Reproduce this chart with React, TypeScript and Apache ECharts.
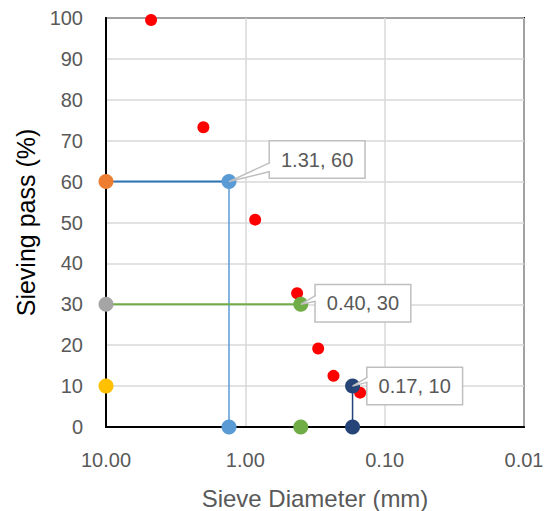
import React, { useEffect, useRef } from "react";
import * as echarts from "echarts";

const FONT = "'Liberation Sans', Arial, sans-serif";

// measured sieve data (diameter mm, % passing)
const sieveX = [4.75, 2.0, 0.85, 0.425, 0.3, 0.233, 0.15];
const sieveY = [99.5, 73.3, 50.7, 32.7, 19.2, 12.5, 8.4];

// characteristic diameters
const d60 = [1.31, 60];
const d30 = [0.4, 30];
const d10 = [0.17, 10];
const axisX = 10;

const xTicks = ["10.00", "1.00", "0.10", "0.01"];
const calloutTexts = ["1.31, 60", "0.40, 30", "0.17, 10"];

const GRAY_TEXT = "#595959";

function callout(text: string, pos: number[]) {
  return {
    show: true,
    formatter: text,
    position: pos,
    backgroundColor: "#fff",
    borderColor: "#BFBFBF",
    borderWidth: 1.5,
    padding: [8, 11, 8, 11],
    color: GRAY_TEXT,
    fontSize: 20,
    fontFamily: FONT,
  };
}

export default function App() {
  const ref = useRef<HTMLDivElement>(null);
  useEffect(() => {
    if (!ref.current) return;
    const chart = echarts.init(ref.current, null, { renderer: "svg" });
    const pt = (c: string, data: number[][], size = 15, label?: any) => ({
      type: "scatter",
      data,
      symbolSize: size,
      clip: false,
      z: 5,
      itemStyle: { color: c, opacity: 1 },
      label: label || { show: false },
    });
    chart.setOption({
      animation: false,
      grid: {
        left: 106,
        right: 20,
        top: 18,
        bottom: 84,
        show: true,
        borderColor: "#000",
        borderWidth: 2,
        containLabel: false,
        outerBoundsMode: "none",
      },
      xAxis: {
        type: "log",
        logBase: 10,
        inverse: true,
        min: 0.01,
        max: 10,
        name: "Sieve Diameter (mm)",
        nameLocation: "middle",
        nameGap: 59,
        nameTextStyle: { fontSize: 24, color: GRAY_TEXT, fontFamily: FONT },
        axisLine: { lineStyle: { color: "#000", width: 2 } },
        axisTick: { show: false },
        axisLabel: {
          fontSize: 20,
          color: GRAY_TEXT,
          fontFamily: FONT,
          margin: 23,
          formatter: (v: number) => {
            const i = Math.round(1 - Math.log10(v));
            return xTicks[i] ?? v.toFixed(2);
          },
        },
        splitLine: { show: true, lineStyle: { color: "#D9D9D9", width: 1.5 } },
      },
      yAxis: {
        type: "value",
        min: 0,
        max: 100,
        interval: 10,
        name: "Sieving pass (%)",
        nameLocation: "middle",
        nameGap: 68,
        nameTextStyle: { fontSize: 25, color: "#000", fontFamily: FONT },
        axisLine: { show: true, lineStyle: { color: "#000", width: 2 } },
        axisTick: { show: false },
        axisLabel: { fontSize: 20, color: GRAY_TEXT, fontFamily: FONT, margin: 23 },
        splitLine: { show: true, lineStyle: { color: "#D9D9D9", width: 1.5 } },
      },
      series: [
        {
          type: "line",
          data: [[axisX, d60[1]], d60],
          symbol: "none",
          lineStyle: { color: "#2E75B6", width: 2 },
          z: 3,
        },
        {
          type: "line",
          data: [d60, [d60[0], 0]],
          symbol: "none",
          lineStyle: { color: "#5B9BD5", width: 1.5 },
          z: 3,
        },
        {
          type: "line",
          data: [[axisX, d30[1]], d30],
          symbol: "none",
          lineStyle: { color: "#70AD47", width: 2 },
          z: 3,
        },
        {
          type: "line",
          data: [d10, [d10[0], 0]],
          symbol: "none",
          lineStyle: { color: "#264478", width: 1.5 },
          z: 3,
        },
        {
          type: "scatter",
          data: sieveX.map((x, i) => [x, sieveY[i]]),
          symbolSize: 12,
          clip: false,
          z: 4,
          itemStyle: { color: "#FF0000", opacity: 1 },
        },
        pt("#ED7D31", [[axisX, d60[1]]]),
        pt("#A5A5A5", [[axisX, d30[1]]]),
        pt("#FFC000", [[axisX, d10[1]]]),
        pt("#5B9BD5", [[d60[0], 0]]),
        pt("#70AD47", [[d30[0], 0]]),
        pt("#264478", [[d10[0], 0]]),
        pt("#5B9BD5", [d60], 15, callout(calloutTexts[0], [48.5, -32.5])),
        pt("#70AD47", [d30], 15, callout(calloutTexts[1], [22.5, -11.5])),
        pt("#264478", [d10], 15, callout(calloutTexts[2], [22.5, -10.5])),
      ],
    });

    const wedges = [
      { p: d60, dx: 41, y1: -19, y2: -10 },
      { p: d30, dx: 15, y1: -9, y2: -3 },
      { p: d10, dx: 15, y1: -9, y2: -4 },
    ];
    const graphics: any[] = [];
    wedges.forEach((w) => {
      const c = chart.convertToPixel({ gridIndex: 0 }, w.p) as number[];
      const bx = c[0] + w.dx;
      graphics.push({
        type: "polygon",
        z: 100,
        shape: { points: [[bx + 1, c[1] + w.y1], [c[0], c[1]], [bx + 1, c[1] + w.y2]] },
        style: { fill: "#fff", stroke: null },
      });
      graphics.push({
        type: "polyline",
        z: 101,
        shape: { points: [[bx, c[1] + w.y1], [c[0], c[1]], [bx, c[1] + w.y2]] },
        style: { stroke: "#BFBFBF", lineWidth: 1.5, fill: null },
      });
    });
    chart.setOption({ graphic: graphics });

    return () => chart.dispose();
  }, []);
  return <div ref={ref} style={{ width: 544, height: 511, position: "absolute", left: 0, top: 0 }} />;
}
